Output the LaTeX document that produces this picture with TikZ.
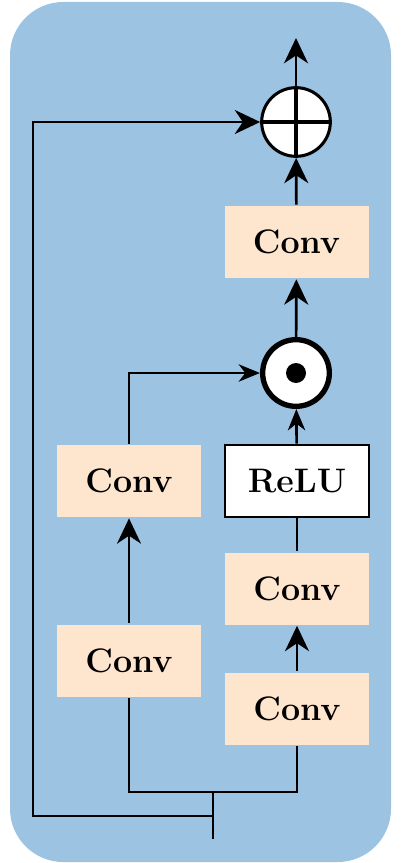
\documentclass[tikz,border=0pt]{standalone}
\usepackage{fontspec}
\usepackage{tikz}
\usetikzlibrary{arrows.meta}
\definecolor{panelblue}{RGB}{157,195,227}
\definecolor{convpeach}{RGB}{253,229,206}

\begin{document}
\begin{tikzpicture}[x=.75pt,y=-.75pt,line width=2pt,
    conv/.style={fill=convpeach,minimum width=108pt,minimum height=54pt,inner sep=0pt,
      font=\fontsize{25.5}{30}\selectfont\bfseries},
    act/.style={conv,fill=white,draw,line width=2.2pt},
    addop/.style={circle,draw,fill=white,line width=2.3pt,minimum size=51.5pt,inner sep=0pt},
    mulop/.style={circle,draw,fill=white,line width=4pt,minimum size=50pt,inner sep=0pt},
    arr/.style={-{Stealth[length=19pt,width=18pt,inset=6pt]}},
    sarr/.style={-{Stealth[length=16pt,width=13pt,inset=5pt]}}]
    \useasboundingbox (0,0) rectangle (402,863);
    \fill[panelblue,rounded corners=40pt] (10,2) rectangle (391,862);

    \node[addop] (plus) at (296,122) {};
    \draw[line width=2.3pt] (plus.west) -- (plus.east);
    \node[conv] (convtop) at (296.5,242) {Conv};
    \node[mulop] (odot) at (296,373) {};
    \fill (odot) circle (7.5pt);
    \node[conv] (convleft) at (129,481) {Conv};
    \node[act] (relu) at (297,481) {ReLU};
    \node[conv] (convmid) at (297,588.5) {Conv};
    \node[conv] (convlow) at (129,660.5) {Conv};
    \node[conv] (convright) at (297,708.5) {Conv};

    \coordinate (out) at (296,38);
    \coordinate (in) at (213,839);
    \coordinate (split) at (213,792);
    \coordinate (loop) at (213,816);
    \coordinate (corner) at (33,816);

    \draw[line width=2.3pt] (plus.south) -- (plus.north);
    \draw[arr] (plus.north) -- (out);
    \draw[arr] (convtop) -- (plus);
    \draw[arr] (odot) -- (convtop);
    \draw[sarr] (relu) -- (odot);
    \draw[sarr] (convleft.north) |- (odot.west);
    \draw (convmid) -- (relu);
    \draw[arr] (convright) -- (convmid);
    \draw[arr] (convlow) -- (convleft);
    \draw (convlow.south) |- (split) -| (convright.south);
    \draw (in) -- (split);
    \draw[arr] (loop) -- (corner) |- (plus.west);
\end{tikzpicture}
\end{document}
